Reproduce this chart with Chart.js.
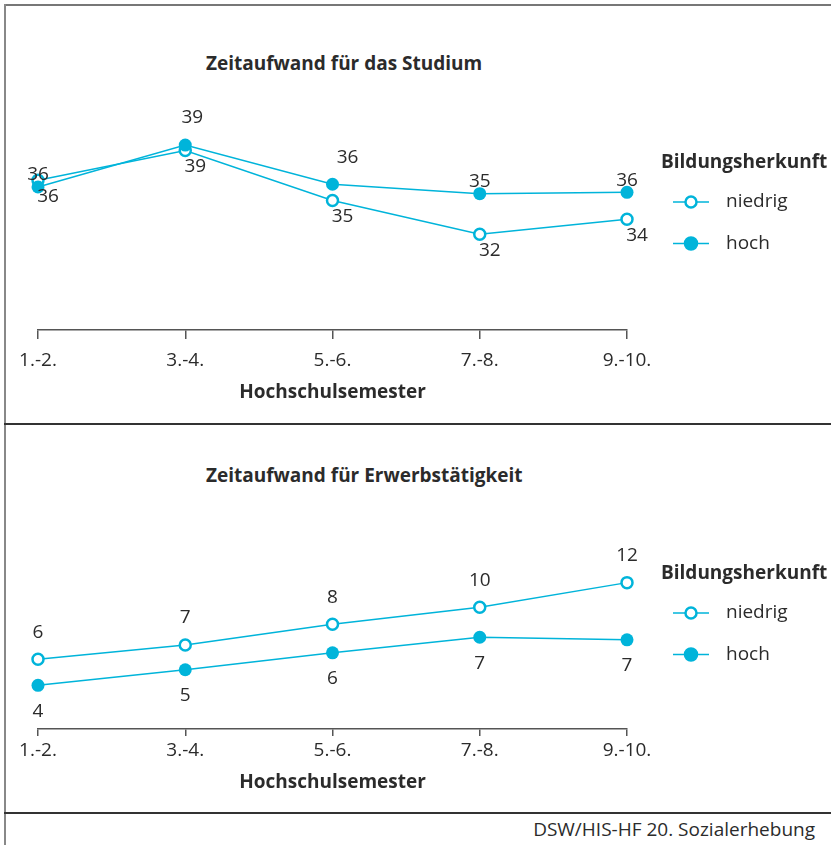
<!DOCTYPE html>
<html lang="de">
<head>
<meta charset="utf-8">
<title>Zeitaufwand nach Bildungsherkunft</title>
<script src="https://cdn.jsdelivr.net/npm/chart.js@4.4.1/dist/chart.umd.min.js"></script>
<style>
  body { margin: 0; background: #fff; font-family: "Open Sans", sans-serif; color: #2b2b2b; }
  #seite { position: relative; width: 831px; height: 845px; overflow: hidden; }
  .linie { position: absolute; }
  canvas { position: absolute; left: 0; }
  .titel { position: absolute; left: 206px; font-weight: bold; font-size: 19px; line-height: 24px; white-space: nowrap; }
  .quelle { position: absolute; right: 16px; top: 817px; font-size: 19px; line-height: 24px; white-space: nowrap; }
</style>
</head>
<body>
<div id="seite">
  <div class="linie" style="left:4px;top:4px;width:827px;height:2px;background:#777"></div>
  <div class="linie" style="left:4px;top:4px;width:2px;height:841px;background:#888"></div>
  <div class="linie" style="left:4px;top:423px;width:827px;height:2px;background:#333"></div>
  <div class="linie" style="left:4px;top:812px;width:827px;height:2px;background:#333"></div>

  <div class="titel" style="top:51px">Zeitaufwand für das Studium</div>
  <div class="titel" style="top:463px">Zeitaufwand für Erwerbstätigkeit</div>
  <div class="quelle">DSW/HIS-HF 20. Sozialerhebung</div>

  <canvas id="studiumChart" style="top:0" width="831" height="424"></canvas>
  <canvas id="erwerbChart" style="top:425px" width="831" height="388"></canvas>
</div>

<script>
// Daten (Stunden pro Woche)
const semester = ["1.-2.", "3.-4.", "5.-6.", "7.-8.", "9.-10."];
const studiumNiedrig = [36.4, 38.6, 34.9, 32.4, 33.5];
const studiumHoch = [35.9, 39.0, 36.1, 35.4, 35.5];
const erwerbNiedrig = [5.7, 6.8, 8.4, 9.7, 11.6];
const erwerbHoch = [3.7, 4.9, 6.2, 7.4, 7.2];
const herkunft = ["niedrig", "hoch"];
const legendenTitel = "Bildungsherkunft";
const achsenTitel = "Hochschulsemester";

const CYAN = '#00b4da';
const TEXT = '#2b2b2b';
const SCHRIFT = '"Open Sans", sans-serif';

Chart.defaults.font.family = SCHRIFT;
Chart.defaults.color = TEXT;

// Zahlen an den Punkten
const wertePlugin = {
  id: 'werte',
  afterDatasetsDraw(chart, args, opts) {
    const ctx = chart.ctx;
    ctx.save();
    ctx.font = '19px ' + SCHRIFT;
    ctx.fillStyle = TEXT;
    ctx.textAlign = 'center';
    ctx.textBaseline = 'middle';
    chart.data.datasets.forEach((ds, i) => {
      const meta = chart.getDatasetMeta(i);
      meta.data.forEach((pt, j) => {
        const off = opts.versatz[i][j];
        ctx.fillText(Math.round(ds.data[j]), pt.x + off[0], pt.y + off[1]);
      });
    });
    ctx.restore();
  }
};

// Legende rechts
const legendePlugin = {
  id: 'legende',
  afterDraw(chart, args, opts) {
    const ctx = chart.ctx;
    ctx.save();
    ctx.textBaseline = 'middle';
    ctx.textAlign = 'left';
    ctx.fillStyle = TEXT;
    ctx.font = 'bold 19px ' + SCHRIFT;
    ctx.fillText(legendenTitel, 661, opts.y);
    chart.data.datasets.forEach((ds, i) => {
      const y = opts.y + 39 + i * 41.5;
      ctx.strokeStyle = ds.borderColor;
      ctx.lineWidth = 1.5;
      ctx.beginPath();
      ctx.moveTo(673, y);
      ctx.lineTo(709, y);
      ctx.stroke();
      ctx.beginPath();
      ctx.arc(691, y, ds.pointRadius, 0, Math.PI * 2);
      ctx.fillStyle = ds.pointBackgroundColor;
      ctx.fill();
      ctx.lineWidth = ds.pointBorderWidth;
      ctx.strokeStyle = ds.pointBorderColor;
      ctx.stroke();
      ctx.fillStyle = TEXT;
      ctx.font = '19px ' + SCHRIFT;
      ctx.fillText(ds.label, 726, y);
    });
    ctx.restore();
  }
};

function zeichne(id, niedrig, hoch, s) {
  return new Chart(document.getElementById(id), {
    type: 'line',
    data: {
      labels: semester,
      datasets: [{
        label: herkunft[0],
        data: niedrig,
        borderColor: CYAN,
        borderWidth: 1.5,
        pointRadius: 5.5,
        pointBackgroundColor: '#fff',
        pointBorderColor: CYAN,
        pointBorderWidth: 2.5,
        order: 1,
        clip: false
      }, {
        label: herkunft[1],
        data: hoch,
        borderColor: CYAN,
        borderWidth: 1.5,
        pointRadius: 6.5,
        pointBackgroundColor: CYAN,
        pointBorderColor: CYAN,
        pointBorderWidth: 0,
        order: 0,
        clip: false
      }]
    },
    options: {
      responsive: false,
      animation: false,
      layout: { padding: { left: 38, right: 204, top: s.oben, bottom: 0 } },
      plugins: {
        legend: { display: false },
        tooltip: { enabled: false },
        werte: { versatz: s.versatz },
        legende: { y: s.legendeY }
      },
      scales: {
        x: {
          offset: false,
          afterFit(scale) { scale.height = s.achsHoehe; },
          border: { display: true, color: '#555', width: 1.5 },
          grid: { display: true, drawOnChartArea: false, drawTicks: true, tickLength: s.strich, color: '#555', lineWidth: 1.5 },
          ticks: { padding: s.tickAbstand, font: { size: 19 }, color: TEXT, maxRotation: 0 },
          title: {
            display: true,
            text: achsenTitel,
            font: { size: 19, weight: 'bold' },
            color: TEXT,
            padding: { top: 0, bottom: s.titelAbstand }
          }
        },
        y: { display: false, min: s.min, max: s.max }
      }
    },
    plugins: [wertePlugin, legendePlugin]
  });
}

zeichne('studiumChart', studiumNiedrig, studiumHoch, {
  oben: 100, achsHoehe: 94, strich: 9, tickAbstand: 10, titelAbstand: 20,
  min: 25.3, max: 42.34, legendeY: 163,
  versatz: [
    [[10, 16], [10, 16], [10, 16], [10, 16], [10, 16]],
    [[0, -12], [7, -27], [15, -27], [0, -12], [0, -12]]
  ]
});

zeichne('erwerbChart', erwerbNiedrig, erwerbHoch, {
  oben: 60, achsHoehe: 84, strich: 7, tickAbstand: 3, titelAbstand: 19,
  min: 0.34, max: 19.11, legendeY: 149,
  versatz: [
    [[0, -27], [0, -27], [0, -27], [0, -27], [0, -27]],
    [[0, 26], [0, 26], [0, 26], [0, 26], [0, 26]]
  ]
});
</script>
</body>
</html>
